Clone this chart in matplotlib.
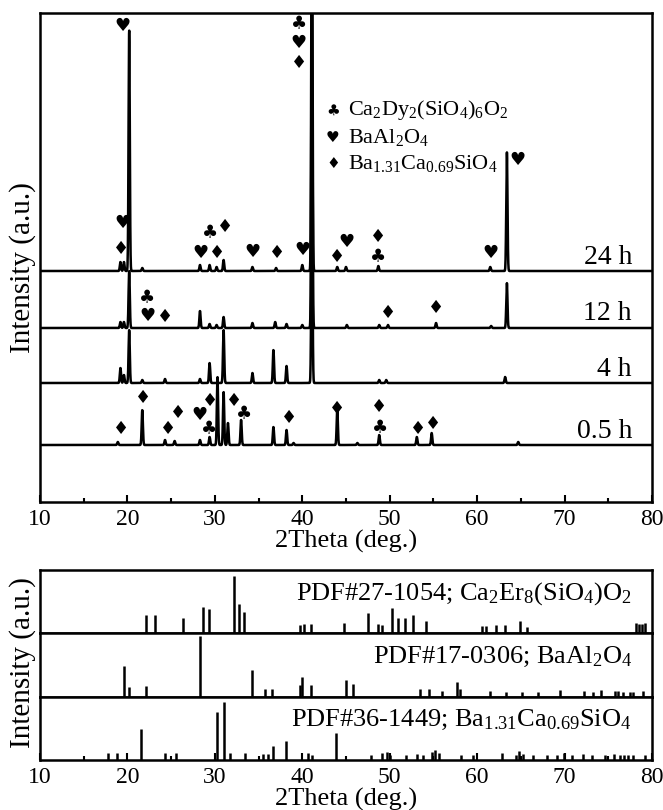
import numpy as np
import matplotlib
matplotlib.use('Agg')
import matplotlib.pyplot as plt

plt.rcParams['font.family'] = ['Liberation Serif', 'DejaVu Sans']
plt.rcParams['mathtext.fontset'] = 'custom'
plt.rcParams['mathtext.rm'] = 'Liberation Serif'
plt.rcParams['mathtext.it'] = 'Liberation Serif:italic'

# ---- measured patterns (2theta, peak height), offsets per curve ----
labels = ['24 h', '12 h', '4 h', '0.5 h']
offsets = [231, 174, 119, 57]

pos_24h = [19.2, 19.6, 20.2, 21.7, 28.3, 29.4, 30.2, 31.0, 34.3, 37.0, 40.0, 41.1, 44.0, 45.0, 48.7, 61.5, 63.4]
hgt_24h = [9, 9, 241, 3, 6, 6, 4, 11, 4, 3, 6, 400, 4, 4, 5, 4, 119]

pos_12h = [19.2, 19.6, 20.2, 28.3, 29.4, 30.2, 31.0, 34.3, 36.9, 38.2, 40.0, 41.1, 45.1, 48.8, 49.8, 55.3, 61.6, 63.4]
hgt_12h = [6, 6, 57, 17, 4, 3, 11, 5, 6, 4, 3, 350, 3, 3, 3, 5, 2, 45]

pos_4h = [19.2, 19.6, 20.2, 21.7, 24.3, 28.3, 29.4, 31.0, 34.3, 36.7, 38.2, 41.1, 48.8, 49.6, 63.2]
hgt_4h = [15, 8, 53, 3, 4, 4, 20, 53, 10, 33, 17, 200, 3, 3, 6]

pos_05h = [18.9, 21.7, 24.3, 25.4, 28.3, 29.4, 30.3, 31.0, 31.5, 33.0, 36.7, 38.2, 39.0, 44.0, 46.3, 48.8, 53.1, 54.8, 64.7]
hgt_05h = [3, 35, 5, 4, 5, 8, 68, 53, 22, 25, 18, 15, 2, 35, 2, 10, 8, 12, 3]

# phase markers: (symbol, 2theta, y)
club, heart, diam = '\u2663', '\u2665', '\u2666'
marks = [
    (heart, 19.38, 476), (club, 39.62, 478), (heart, 39.62, 459), (diam, 39.62, 439),
    (heart, 19.38, 279), (diam, 19.26, 253), (club, 29.44, 269), (diam, 31.16, 275),
    (heart, 28.30, 249), (diam, 30.24, 249), (heart, 34.25, 250), (diam, 37.11, 249),
    (heart, 39.97, 252), (diam, 43.97, 245), (heart, 45.11, 260), (diam, 48.66, 265),
    (club, 48.66, 245), (heart, 61.47, 249), (heart, 64.56, 342),
    (club, 22.24, 204), (heart, 22.24, 186), (diam, 24.30, 185), (diam, 49.80, 189), (diam, 55.29, 194),
    (diam, 19.26, 73), (diam, 21.78, 104), (diam, 24.64, 73), (diam, 25.78, 89),
    (heart, 28.19, 87), (club, 29.33, 73), (diam, 29.44, 101), (diam, 32.20, 101),
    (club, 33.30, 88), (diam, 38.48, 84), (diam, 43.97, 93), (diam, 48.77, 95),
    (club, 48.89, 74), (diam, 53.23, 73), (diam, 54.95, 78),
]
legend_sym = [club, heart, diam]
legend_txt = [r'Ca$_2$Dy$_2$(SiO$_4$)$_6$O$_2$', r'BaAl$_2$O$_4$', r'Ba$_{1.31}$Ca$_{0.69}$SiO$_4$']

# ---- reference cards ----
pdf_labels = [r'PDF#27-1054; Ca$_2$Er$_8$(SiO$_4$)O$_2$',
              r'PDF#17-0306; BaAl$_2$O$_4$',
              r'PDF#36-1449; Ba$_{1.31}$Ca$_{0.69}$SiO$_4$']
pdf1_pos = [22.1, 23.2, 26.4, 28.6, 29.3, 32.2, 32.8, 33.3, 39.7, 40.2, 41.0, 44.8, 47.5, 48.7, 49.1,
            50.3, 51.0, 51.8, 52.7, 54.1, 60.6, 61.0, 62.2, 63.2, 64.9, 65.7, 78.2, 78.5, 78.8, 79.2]
pdf1_h = [18, 18, 15, 26, 24, 57, 29, 21, 8, 9, 9, 10, 20, 9, 8,
          25, 15, 15, 18, 12, 7, 7, 8, 8, 12, 6, 10, 9, 9, 10]
pdf2_pos = [19.6, 20.2, 22.1, 28.3, 34.3, 35.7, 36.5, 39.7, 40.0, 41.0, 45.0, 45.8, 53.5, 54.5, 56.0,
            57.7, 58.0, 61.5, 63.3, 65.1, 67.0, 69.5, 72.2, 73.3, 74.2, 75.8, 76.1, 76.7, 77.5, 77.8, 79.0]
pdf2_h = [31, 10, 11, 60, 27, 8, 8, 12, 20, 12, 17, 13, 8, 8, 6,
          15, 8, 6, 5, 5, 5, 7, 6, 5, 7, 6, 6, 5, 5, 5, 6]
pdf3_pos = [17.8, 18.8, 21.5, 24.3, 25.5, 30.2, 31.0, 31.7, 33.4, 35.5, 36.1, 36.7, 38.1, 40.6, 41.1,
            43.9, 47.9, 49.1, 49.7, 50.0, 51.9, 53.1, 53.8, 54.8, 55.2, 55.6, 58.2, 59.5, 62.9, 64.5,
            64.8, 65.3, 66.4, 68.0, 69.1, 69.9, 70.8, 72.1, 73.1, 74.6, 75.6, 76.3, 76.8, 77.3, 77.8, 79.2]
pdf3_h = [7, 7, 31, 7, 7, 48, 58, 7, 7, 6, 6, 14, 19, 7, 5,
          27, 5, 7, 8, 5, 5, 6, 5, 8, 10, 7, 5, 5, 7, 5,
          9, 6, 5, 5, 5, 7, 5, 6, 5, 5, 6, 5, 5, 5, 5, 5]

fig = plt.figure(figsize=(6.63, 8.10), dpi=100)

def style_ax(ax, labels_on=True):
    ax.set_xlim(10, 80)
    ax.set_xticks(np.arange(10, 81, 10))
    ax.set_xticks(np.arange(15, 80, 10), minor=True)
    ax.set_yticks([])
    ax.tick_params(axis='x', which='major', direction='in', length=5, width=1.5,
                   labelsize=17, pad=5, labelbottom=labels_on)
    ax.tick_params(axis='x', which='minor', direction='in', length=3, width=1.5)
    for s in ax.spines.values():
        s.set_linewidth(1.8)

# top panel
ax = fig.add_axes([40 / 663, 1 - 502 / 810, 612 / 663, 489 / 810])
x = np.linspace(10, 80, 4000)
sets = [(pos_24h, hgt_24h), (pos_12h, hgt_12h), (pos_4h, hgt_4h), (pos_05h, hgt_05h)]
for (pp, hh), off, lab in zip(sets, offsets, labels):
    y = np.full_like(x, off, dtype=float)
    for p, h in zip(pp, hh):
        y += h * np.exp(-0.5 * ((x - p) / 0.07) ** 2)
    ax.plot(x, y, color='black', lw=1.8)
    ax.text(77.7, off + 14, lab, ha='right', va='center', fontsize=20)
ax.set_ylim(0, 489)
style_ax(ax)
ax.set_xlabel('2Theta (deg.)', fontsize=19, labelpad=0)
fig.text(23 / 663, 1 - 268 / 810, 'Intensity (a.u.)', rotation=90, ha='center', va='center', fontsize=21)

for sym, mx, my in marks:
    ax.text(mx, my, sym, ha='center', va='center', fontsize=13, family='DejaVu Sans')
for i, (sym, txt) in enumerate(zip(legend_sym, legend_txt)):
    yy = 392 - 27 * i
    ax.text(43.5, yy, sym, ha='center', va='center', fontsize=11, family='DejaVu Sans')
    ax.text(45.2, yy, txt, ha='left', va='center', fontsize=16)

# bottom panels
h_sub = 190 / 3 / 810
bot_axes = []
for i, (pp, hh, lab) in enumerate(zip([pdf1_pos, pdf2_pos, pdf3_pos], [pdf1_h, pdf2_h, pdf3_h], pdf_labels)):
    b = 1 - 760 / 810 + (2 - i) * h_sub
    a = fig.add_axes([40 / 663, b, 612 / 663, h_sub])
    a.vlines(pp, 0, hh, color='black', lw=1.8)
    a.set_ylim(0, 63)
    style_ax(a, labels_on=(i == 2))
    if i < 2:
        a.tick_params(axis='x', which='both', length=0)
    a.text(77.7, 40, lab, ha='right', va='center', fontsize=19)
    bot_axes.append(a)
bot_axes[2].set_xlabel('2Theta (deg.)', fontsize=19, labelpad=0)
fig.text(23 / 663, 1 - 663 / 810, 'Intensity (a.u.)', rotation=90, ha='center', va='center', fontsize=21)

fig.savefig('out.png', dpi=100)
